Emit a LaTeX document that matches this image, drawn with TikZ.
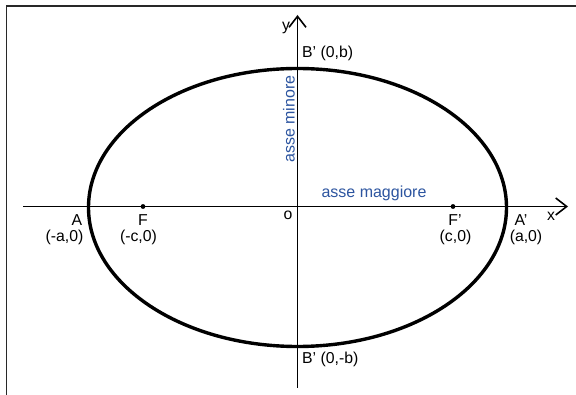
\documentclass[tikz,border=0pt]{standalone}
\usepackage{fontspec}
\setmainfont{Liberation Sans}
\usetikzlibrary{arrows.meta}
\definecolor{axisblue}{RGB}{45,85,160}
\definecolor{framegray}{RGB}{40,40,40}
\begin{document}
\begin{tikzpicture}[x=1pt,y=-1pt,
  lbl/.style={font=\fontsize{15.8}{18}\selectfont, inner sep=0pt, text=black},
  bluelbl/.style={font=\fontsize{16}{18}\selectfont, inner sep=0pt, text=axisblue},
  axisline/.style={line width=1.5pt, -{Straight Barb[length=11pt,width=17pt,line width=1.6pt]}},
  curve/.style={line width=3.4pt},
  focusdot/.style={fill=black}]
\useasboundingbox (0,0) rectangle (576,395);
\fill[white] (0,0) rectangle (576,395);
% frame (left and top only)
\draw[framegray, line width=1.5pt] (6.5,395) -- (6.5,6) -- (576,6);
% axes
\coordinate (xstart) at (23,206.5);
\coordinate (xend) at (568,206.5);
\coordinate (ystart) at (297.5,388);
\coordinate (yend) at (297.5,15);
\draw[axisline] (xstart) -- (xend);
\draw[axisline] (ystart) -- (yend);
% ellipse
\coordinate (O) at (297.5,207.5);
\draw[curve] (O) ellipse [x radius=209, y radius=139];
% foci
\coordinate (F) at (143,206.5);
\coordinate (Fp) at (453,206.5);
\fill[focusdot] (F) circle (2.4);
\fill[focusdot] (Fp) circle (2.4);
% labels
\node[lbl] (ylab) at (286,28) {y};
\node[lbl] (xlab) at (551,216) {x};
\node[lbl] (olab) at (288,215) {o};
\node[lbl, anchor=west] (Bt) at (302,53) {B' (0,b)};
\node[lbl, anchor=west] (Bb) at (302,359) {B' (0,-b)};
\node[lbl] (Alab) at (77,220) {A};
\node[lbl] (Acoord) at (64.5,237) {(-a,0)};
\node[lbl] (Flab) at (143,220) {F};
\node[lbl] (Fcoord) at (138.5,237) {(-c,0)};
\node[lbl] (Fplab) at (455,220) {F'};
\node[lbl] (Fpcoord) at (455.5,237) {(c,0)};
\node[lbl] (Aplab) at (521,220) {A'};
\node[lbl] (Apcoord) at (526,237) {(a,0)};
\node[bluelbl, rotate=90] (minore) at (289,119) {asse minore};
\node[bluelbl] (maggiore) at (374,193) {asse maggiore};
\end{tikzpicture}
\end{document}
